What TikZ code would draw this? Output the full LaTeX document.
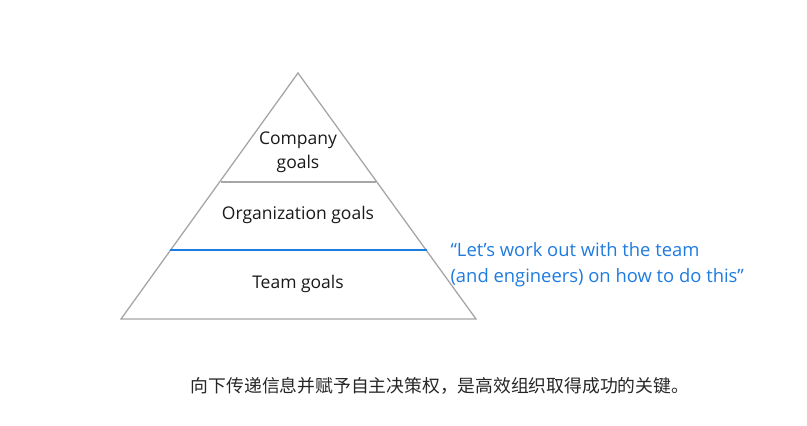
\documentclass[tikz,border=0pt]{standalone}
\usepackage{fontspec}
\setmainfont{Open Sans}
\newfontfamily\cjk{Noto Sans CJK SC}
\definecolor{qblue}{HTML}{1E7BE0}
\tikzset{lbl/.style={font=\fontsize{17.5}{24}\selectfont, align=center, text=black!90}}
\begin{document}
\begin{tikzpicture}[x=1pt,y=-1pt]
\useasboundingbox (0,0) rectangle (807,426);
\coordinate (apex) at (298,73);
\coordinate (bl) at (121,319);
\coordinate (br) at (476,319);
\draw[gray!70, line width=1.3pt] (apex) -- (bl) -- (br) -- cycle;
\coordinate (l1) at (220.5,182); \coordinate (r1) at (376,182);
\draw[gray!70, line width=1.3pt] (l1) -- (r1);
\coordinate (l2) at (170,250); \coordinate (r2) at (427,250);
\draw[qblue, line width=1.3pt] (l2) -- (r2);
\node[lbl] (c) at (298,152) {Company\\goals};
\node[lbl] (o) at (298,215) {Organization goals};
\node[lbl] (t) at (298,284) {Team goals};
\node[font=\fontsize{18.4}{26}\selectfont, text=qblue, align=left, anchor=west] (q) at (447,265) {“Let’s work out with the team\\ (and engineers) on how to do this”};
\node[font=\cjk\fontsize{17.8}{20}\selectfont, text=black!85] (z) at (440,386) {向下传递信息并赋予自主决策权，是高效组织取得成功的关键。};
\end{tikzpicture}
\end{document}
